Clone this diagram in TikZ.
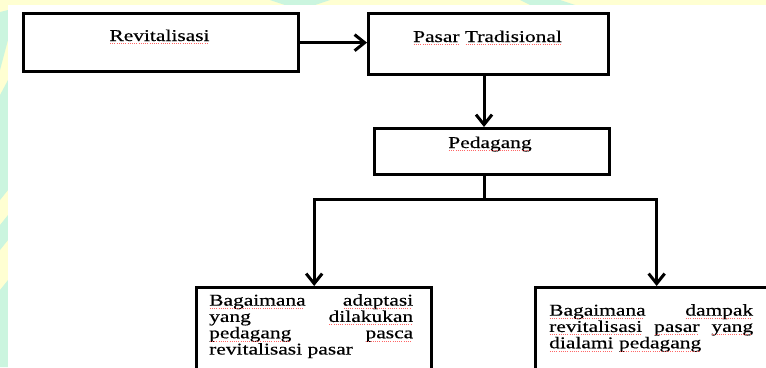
\documentclass[tikz,border=0pt]{standalone}
\usepackage{fontspec}
\setmainfont{Liberation Serif}
\newfontfamily\wfont[FakeStretch=1.3,FakeBold=0.4]{Liberation Serif}
\usetikzlibrary{arrows.meta}
\definecolor{bgyellow}{HTML}{FFFFD2}
\definecolor{bggreen}{HTML}{CBF5DF}
\newcommand{\rw}[1]{\leavevmode\setbox0\hbox{#1}\rlap{\usebox0}\raisebox{-3pt}{\color{red!60!white}\leaders\hbox to 2.2pt{\hss\rule{1pt}{0.7pt}\hss}\hskip\wd0}}
\tikzset{
  box/.style={draw=black, line width=3.3pt, fill=white, inner sep=0pt, anchor=north west},
  conn/.style={line width=3pt, draw=black},
  arr/.style={conn, -{Straight Barb[length=10pt,width=16pt]}},
  txt/.style={font=\wfont\fontsize{16.5}{16.3}\selectfont, inner sep=0pt, text=black},
}
\begin{document}
\begin{tikzpicture}[x=1pt,y=-1pt]
\useasboundingbox (0,0) rectangle (766,367);
\clip (0,0) rectangle (766,367);
% background page with watermark strip
\fill[bgyellow] (0,0) rectangle (766,367);
\fill[bggreen] (0,12) -- (8,10) -- (8,40) -- (0,70) -- cycle;
\fill[bggreen] (0,95) -- (8,80) -- (8,190) -- (0,200) -- cycle;
\fill[bggreen] (0,225) -- (8,215) -- (8,240) -- (0,250) -- cycle;
\fill[bggreen] (0,290) -- (8,280) -- (8,367) -- (0,367) -- cycle;
\fill[bggreen] (270,0) -- (330,0) -- (315,5) -- (285,5) -- cycle;
\fill[bggreen] (520,0) -- (560,0) -- (575,5) -- (530,5) -- cycle;
\fill[white] (8,5) rectangle (766,367);
% boxes
\node[box, minimum width=275pt, minimum height=58pt] (rev) at (22,12) {};
\node[box, minimum width=240pt, minimum height=61pt] (pasar) at (367,12) {};
\node[box, minimum width=235pt, minimum height=46pt] (ped) at (373,127) {};
\node[box, minimum width=235pt, minimum height=110pt] (lq) at (195,286) {};
\node[box, minimum width=242pt, minimum height=110pt] (rq) at (534,286) {};
% texts
\node[txt, anchor=base] (trev) at (159.5,41) {\rw{Revitalisasi}};
\node[txt, anchor=base] (tpas) at (487.5,42) {\rw{Pasar} \rw{Tradisional}};
\node[txt, anchor=base] (tped) at (490,148) {\rw{Pedagang}};
\node[txt, anchor=north west, text width=204pt, align=left] (tlq) at (209,294)
  {\rw{Bagaimana}\hfill\rw{adaptasi}\\
   yang\hfill\rw{dilakukan}\\
   \rw{pedagang}\hfill\rw{pasca}\\
   revitalisasi pasar};
\node[txt, anchor=north west, text width=204pt, align=left] (trq) at (549,304)
  {\rw{Bagaimana}\hfill\rw{dampak}\\
   \rw{revitalisasi}\hfill\rw{pasar}\hfill\rw{yang}\\
   \rw{dialami} \rw{pedagang}};
% connectors
\coordinate (j) at (484,199);
\draw[arr] (rev.east) -- (rev.east -| pasar.west);
\draw[arr] (pasar.south -| j) -- (ped.north -| j);
\draw[conn] (ped.south -| j) -- (j);
\draw[arr] (j) -| (lq.north);
\draw[arr] (j) -| (rq.north);
\end{tikzpicture}
\end{document}
